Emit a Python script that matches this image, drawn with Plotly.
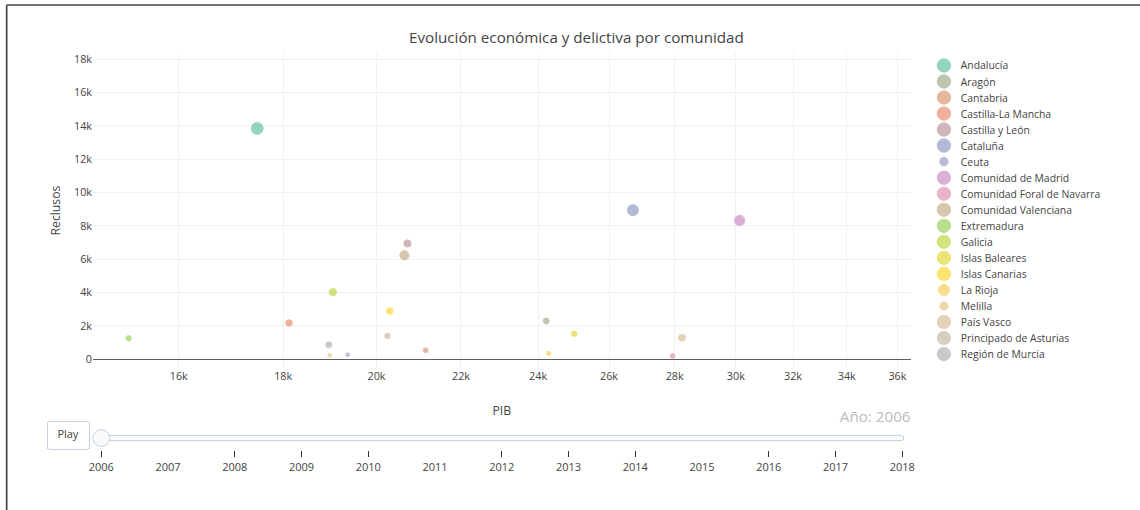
import plotly.graph_objects as go

# ---------------- data (año 2006) ----------------
comunidades = [
    "Andalucía", "Aragón", "Cantabria", "Castilla-La Mancha", "Castilla y León",
    "Cataluña", "Ceuta", "Comunidad de Madrid", "Comunidad Foral de Navarra",
    "Comunidad Valenciana", "Extremadura", "Galicia", "Islas Baleares",
    "Islas Canarias", "La Rioja", "Melilla", "País Vasco",
    "Principado de Asturias", "Región de Murcia",
]
pib_2006 = [17480, 24220, 21140, 18120, 20710, 26710, 19360, 30130, 27930,
            20640, 15120, 19040, 25000, 20300, 24290, 18970, 28230, 20250, 18950]
reclusos_2006 = [13850, 2300, 540, 2180, 6950, 8950, 280, 8330, 200,
                 6240, 1260, 4030, 1530, 2900, 360, 240, 1290, 1400, 875]
poblacion_2006 = [7.98, 1.45, 0.62, 1.85, 2.50, 6.90, 0.075, 5.95, 0.62,
                  4.60, 1.10, 2.55, 1.15, 1.95, 0.35, 0.066, 2.20, 1.05, 1.45]
anos = [2006, 2007, 2008, 2009, 2010, 2011, 2012, 2013, 2014, 2015, 2016, 2017, 2018]
pib_ticks = [16000, 18000, 20000, 22000, 24000, 26000, 28000, 30000, 32000, 34000, 36000]
pib_ticktext = ["16k", "18k", "20k", "22k", "24k", "26k", "28k", "30k", "32k", "34k", "36k"]
reclusos_ticks = [0, 2000, 4000, 6000, 8000, 10000, 12000, 14000, 16000, 18000]
reclusos_ticktext = ["0", "2k", "4k", "6k", "8k", "10k", "12k", "14k", "16k", "18k"]

# ---------------- styles ----------------
colores = [
    "rgb(102,194,165)", "rgb(160,173,139)", "rgb(219,153,113)", "rgb(233,144,115)",
    "rgb(190,152,156)", "rgb(146,159,198)", "rgb(171,153,200)", "rgb(206,144,197)",
    "rgb(224,147,183)", "rgb(198,177,140)", "rgb(159,207,96)", "rgb(191,216,74)",
    "rgb(225,217,59)", "rgb(254,216,53)", "rgb(243,208,92)", "rgb(233,200,131)",
    "rgb(218,192,155)", "rgb(198,186,167)", "rgb(179,179,179)",
]
SIZE_MIN, SIZE_MAX = 10, 100
pmin, pmax = min(poblacion_2006), max(poblacion_2006)


def escala(p):
    return SIZE_MIN + (SIZE_MAX - SIZE_MIN) * (p - pmin) / (pmax - pmin)


def trazas(pib, reclusos, pob):
    out = []
    for i, c in enumerate(comunidades):
        out.append(go.Scatter(
            x=[pib[i]], y=[reclusos[i]], mode="markers", name=c,
            marker=dict(color=colores[i], size=[escala(pob[i])], sizemode="area",
                        sizeref=1, opacity=0.7, line=dict(width=1, color=colores[i])),
        ))
    return out


fig = go.Figure(data=trazas(pib_2006, reclusos_2006, poblacion_2006))
fig.frames = [go.Frame(name="2006", data=trazas(pib_2006, reclusos_2006, poblacion_2006))]

S = 0.844                      # escala visual de la página
W, H = 1351, 605
L, R, T, B = 110, 272, 63, 169
pw, ph = W - L - R, H - T - B


def px(u):
    return (u - L) / pw


def py(u):
    return (H - B - u) / ph


fig.update_layout(
    template="none",
    width=W, height=H,
    margin=dict(l=L, r=R, t=T, b=B, autoexpand=False),
    paper_bgcolor="white", plot_bgcolor="white",
    font=dict(family='"Open Sans", verdana, arial, sans-serif', size=12.3, color="#444"),
    title=dict(text="Evolución económica y delictiva por comunidad", x=px(683), xref="paper",
               xanchor="center", y=1 - 45 / H, yanchor="middle",
               font=dict(size=18, color="#444")),
    xaxis=dict(type="log", range=[4.162, 4.5628],
               title=dict(text="PIB", font=dict(size=14.5), standoff=28),
               tickvals=pib_ticks, ticktext=pib_ticktext, tickfont=dict(size=12.8),
               showgrid=True, gridcolor="#eee", zeroline=False, showline=False, ticks=""),
    yaxis=dict(range=[-520, 18365], title=dict(text="Reclusos", font=dict(size=14.5)),
               tickvals=reclusos_ticks, ticktext=reclusos_ticktext, tickfont=dict(size=12.8),
               showgrid=True, gridcolor="#eee", zeroline=True, zerolinecolor="#444",
               zerolinewidth=1, showline=False, ticks=""),
    showlegend=True,
    legend=dict(x=1.02, y=1, xanchor="left", yanchor="top", font=dict(size=12.3)),
    updatemenus=[dict(
        type="buttons", direction="right", showactive=False,
        x=0, xanchor="right", y=0, yanchor="top", pad=dict(t=62, r=5),
        font=dict(size=13),
        buttons=[dict(label="Play", method="animate",
                      args=[None, dict(frame=dict(duration=500, redraw=False),
                                       fromcurrent=True, transition=dict(duration=0))])],
    )],
    sliders=[dict(
        active=0, x=0, len=1, y=0, xanchor="left", yanchor="top",
        pad=dict(t=41, b=0, l=0, r=0), font=dict(size=13),
        currentvalue=dict(prefix="Año: ", xanchor="right", offset=8,
                          font=dict(size=18, color="#BBB")),
        steps=[dict(label=str(a), method="animate",
                    args=[[str(a)], dict(mode="immediate", transition=dict(duration=0),
                                         frame=dict(duration=0, redraw=False))])
               for a in anos],
    )],
    shapes=[
        dict(type="line", xref="paper", yref="paper", x0=px(7.9), x1=px(W + 5),
             y0=py(5.9), y1=py(5.9), line=dict(color="#444", width=2)),
        dict(type="line", xref="paper", yref="paper", x0=px(7.9), x1=px(7.9),
             y0=py(5.9), y1=py(H + 5), line=dict(color="#444", width=2)),
    ],
)

post = ("var gd=document.getElementById('{plot_id}');"
        "gd.style.transformOrigin='0 0';gd.style.transform='scale(%s)';"
        "document.body.style.margin='0';document.body.style.overflow='hidden';"
        "document.documentElement.style.overflow='hidden';" % S)

fig.write_html("out.html", include_plotlyjs=True, full_html=True, post_script=post,
               config=dict(displayModeBar=False))
